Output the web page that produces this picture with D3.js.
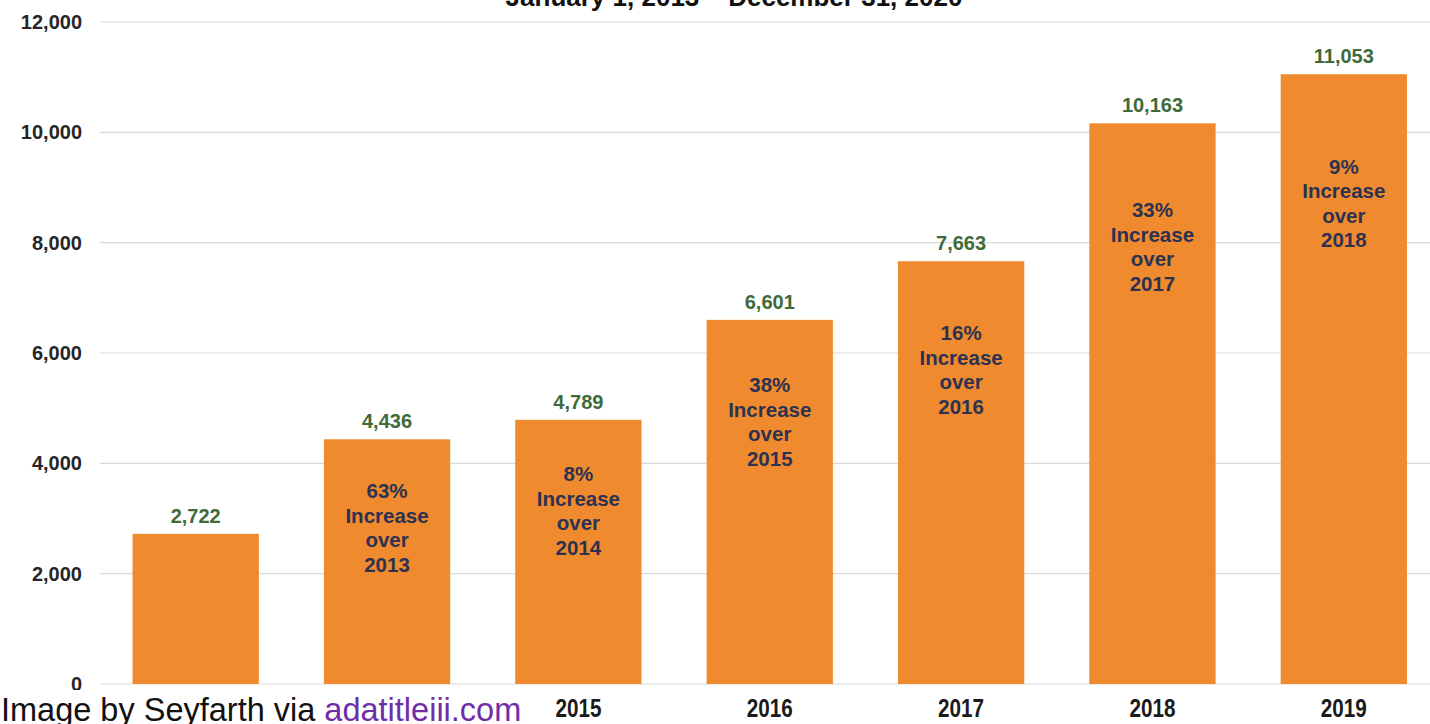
<!DOCTYPE html>
<html>
<head>
<meta charset="utf-8">
<script src="https://cdn.jsdelivr.net/npm/d3@7"></script>
<style>
  body { margin: 0; background: #fff; }
  svg { display: block; font-family: "Liberation Sans", Arial, sans-serif; }
</style>
</head>
<body>
<svg id="chart"></svg>
<script>
// data
const years = ["2013", "2014", "2015", "2016", "2017", "2018", "2019"];
const lawsuits = [2722, 4436, 4789, 6601, 7663, 10163, 11053];
const increases = [null, "63%", "8%", "38%", "16%", "33%", "9%"];
const yTicks = [0, 2000, 4000, 6000, 8000, 10000, 12000];
// 2013 and 2014 labels sit under the caption in the picture
const shownYears = ["2015", "2016", "2017", "2018", "2019"];

const width = 1430;
const height = 724;

const svg = d3.select("#chart")
  .attr("width", width)
  .attr("height", height);

// scales
const xScale = d3.scaleBand()
  .domain(years)
  .range([100, 1439.5])
  .paddingInner(0.34)
  .paddingOuter(0.17);

const yScale = d3.scaleLinear()
  .domain([0, 12000])
  .range([684, 22]);

// gridlines
svg.append("g")
  .selectAll("line")
  .data(yTicks)
  .enter()
  .append("line")
  .attr("x1", 100)
  .attr("x2", width)
  .attr("y1", d => yScale(d))
  .attr("y2", d => yScale(d))
  .attr("stroke", "#d9d9d9")
  .attr("stroke-width", 1.2);

// y axis
const yAxis = d3.axisLeft(yScale).tickValues(yTicks).tickFormat(d3.format(",")).tickSize(0).tickPadding(0);
const yG = svg.append("g").attr("transform", "translate(82,0)").call(yAxis);
yG.select(".domain").remove();
yG.selectAll("text")
  .attr("font-size", 20)
  .attr("font-weight", "bold")
  .attr("fill", "#262626")
  .attr("font-family", "Liberation Sans, Arial, sans-serif");

// bars
svg.selectAll(".bar")
  .data(lawsuits)
  .enter()
  .append("rect")
  .attr("class", "bar")
  .attr("x", (d, i) => xScale(years[i]))
  .attr("y", d => yScale(d))
  .attr("width", xScale.bandwidth())
  .attr("height", d => yScale(0) - yScale(d))
  .attr("fill", "#f08a2e");

// value labels
svg.selectAll(".val")
  .data(lawsuits)
  .enter()
  .append("text")
  .attr("class", "val")
  .attr("x", (d, i) => xScale(years[i]) + xScale.bandwidth() / 2)
  .attr("y", d => yScale(d) - 11)
  .attr("text-anchor", "middle")
  .attr("font-size", 20)
  .attr("font-weight", "bold")
  .attr("fill", "#3e6b39")
  .text(d3.format(","));

// increase notes inside the bars
lawsuits.forEach((d, i) => {
  if (!increases[i]) return;
  const h = yScale(0) - yScale(d);
  const cy = yScale(d) + 62 + 0.11 * h;
  const lines = [increases[i], "Increase", "over", years[i - 1]];
  const t = svg.append("text")
    .attr("text-anchor", "middle")
    .attr("font-size", 20.5)
    .attr("font-weight", "bold")
    .attr("fill", "#2d3250");
  lines.forEach((ln, k) => {
    t.append("tspan")
      .attr("x", xScale(years[i]) + xScale.bandwidth() / 2)
      .attr("y", cy + (k - 1.5) * 24.5 + 7)
      .text(ln);
  });
});

// x axis labels
const xAxis = d3.axisBottom(xScale).tickValues(shownYears).tickSize(0).tickPadding(0);
const xG = svg.append("g").attr("transform", "translate(0,694)").call(xAxis);
xG.select(".domain").remove();
xG.selectAll("text")
  .attr("dy", "0")
  .attr("y", 23)
  .attr("font-size", 26)
  .attr("font-weight", "bold")
  .attr("fill", "#1a1a1a")
  .attr("font-family", "Liberation Sans, Arial, sans-serif")
  .attr("textLength", 46)
  .attr("lengthAdjust", "spacingAndGlyphs");

// title, cut off by the top edge
svg.append("text")
  .attr("x", 734)
  .attr("y", 6)
  .attr("text-anchor", "middle")
  .attr("font-size", 26)
  .attr("font-weight", "bold")
  .attr("fill", "#111")
  .text("January 1, 2013 \u2013 December 31, 2020");

// caption overlay
svg.append("rect")
  .attr("x", 0)
  .attr("y", 690)
  .attr("width", 528)
  .attr("height", 34)
  .attr("fill", "#fff");

const cap = svg.append("text")
  .attr("x", 1)
  .attr("y", 721)
  .attr("font-size", 32.5)
  .attr("fill", "#111");
cap.append("tspan").text("Image by Seyfarth via ");
cap.append("tspan").attr("fill", "#6f2da8").text("adatitleiii.com");
</script>
</body>
</html>
